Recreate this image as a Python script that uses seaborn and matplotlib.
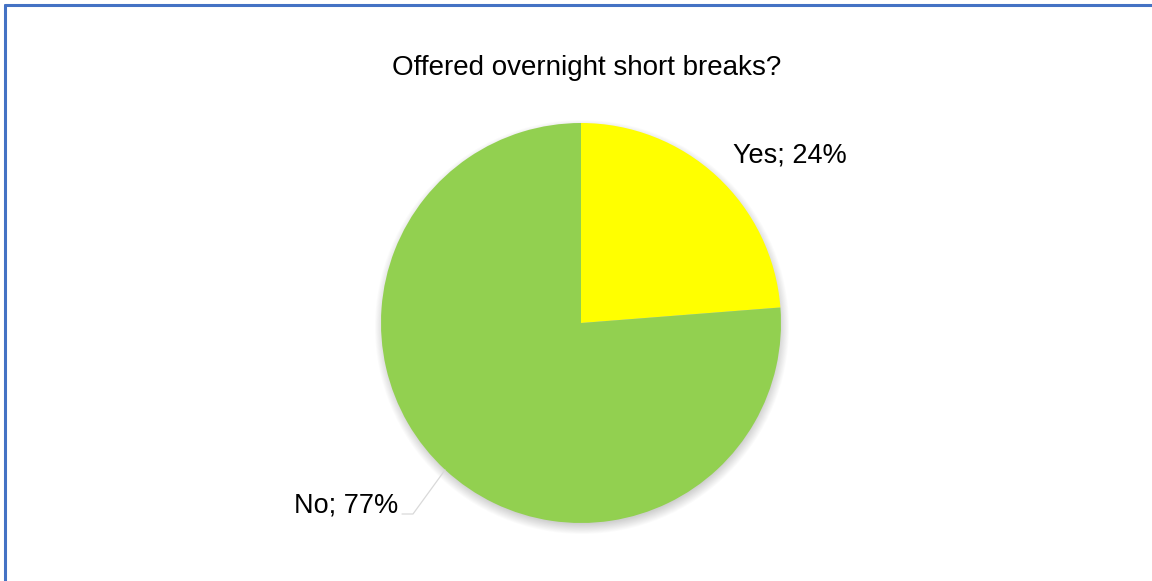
import matplotlib
matplotlib.use("Agg")
import matplotlib.pyplot as plt
from matplotlib.patches import Circle
from matplotlib.lines import Line2D
import seaborn as sns

# Survey answers
categories = ["Yes", "No"]
shares = [24, 77]
slice_colors = ["#FFFF00", "#92D050"]
title = "Offered overnight short breaks?"

sns.set_theme(style="white")
plt.rcParams["font.family"] = ["Liberation Sans", "DejaVu Sans"]

W, H = 1152, 581
fig = plt.figure(figsize=(W / 100, H / 100), dpi=100)
ax = fig.add_axes([0, 0, 1, 1])

cx, cy, r = 581, H - 323, 200

# soft drop shadow under the pie
for k in range(12):
    ax.add_patch(Circle((cx + 1, cy - 4), r + 7 - k * 0.9, color="#000000",
                        alpha=0.015, lw=0, zorder=1))

ax.pie(shares, colors=slice_colors, startangle=90, counterclock=False,
       radius=r, center=(cx, cy), frame=True,
       wedgeprops=dict(linewidth=0, zorder=2))
ax.set_xlim(0, W)
ax.set_ylim(0, H)
ax.set_aspect("equal")
ax.axis("off")

labels = [f"{c}; {v}%" for c, v in zip(categories, shares)]
ax.text(790, H - 155, labels[0], fontsize=19.5, ha="center", va="center", color="#000000")
ax.text(346, H - 505, labels[1], fontsize=19.5, ha="center", va="center", color="#000000")

# leader line for the "No" label
ax.plot([402, 413, 445], [H - 514, H - 514, H - 470], color="#D9D9D9", lw=0.9, zorder=3)

ax.text(587, H - 68, title, fontsize=20, ha="center", va="center", color="#000000")

# frame lines on the top and left edges
fig.add_artist(Line2D([4.5 / W, 1], [1 - 4.5 / H, 1 - 4.5 / H], transform=fig.transFigure,
                      color="#4472C4", lw=2.2))
fig.add_artist(Line2D([4.5 / W, 4.5 / W], [0, 1 - 4.5 / H], transform=fig.transFigure,
                      color="#4472C4", lw=2.2))

fig.savefig("out.png", dpi=100, facecolor="white")
